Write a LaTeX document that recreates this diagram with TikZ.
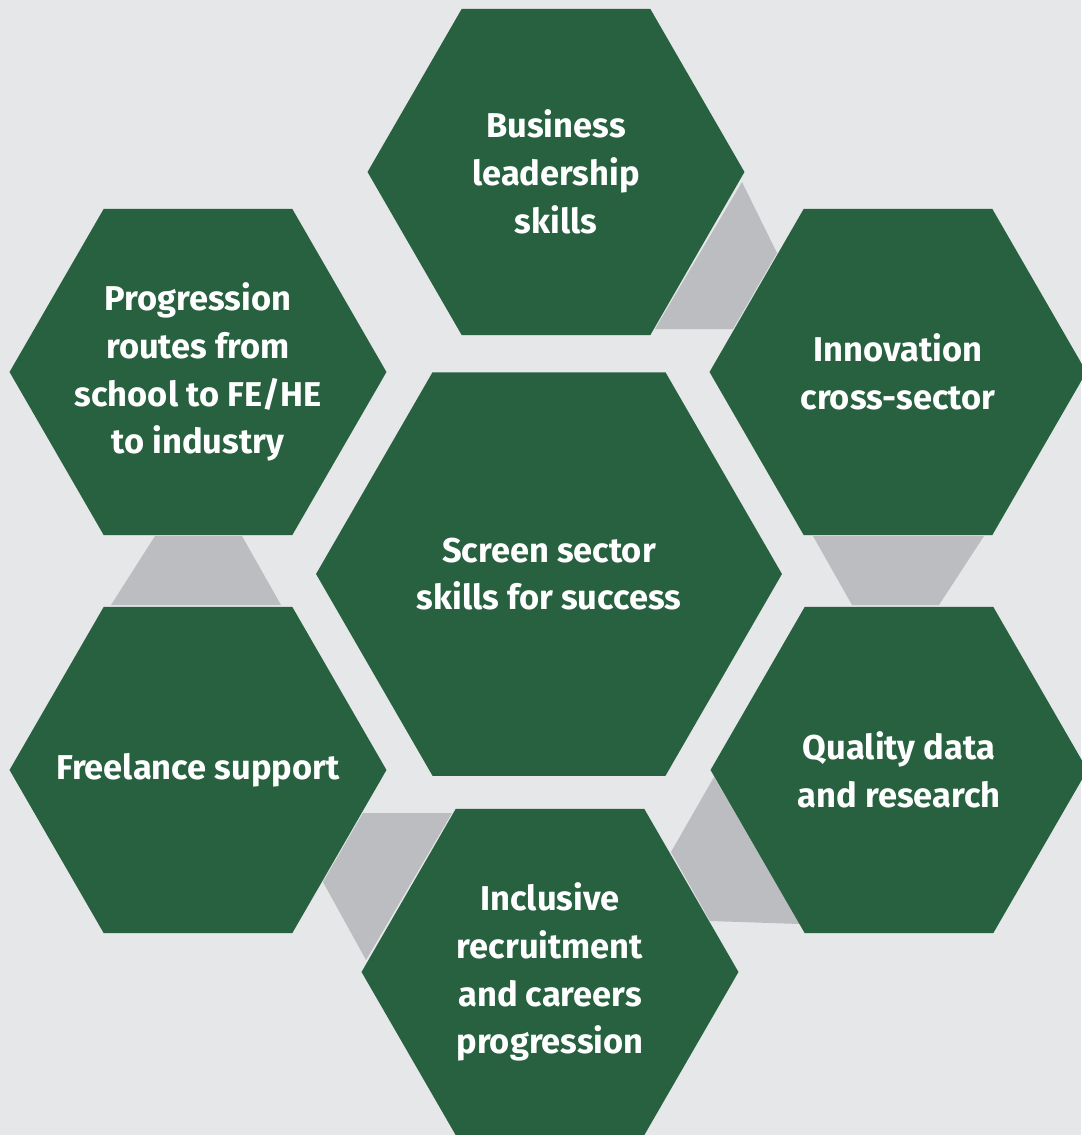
\documentclass[tikz,border=0pt]{standalone}
\usepackage{fontspec}
\setmainfont{Fira Sans}
\usetikzlibrary{shapes.geometric}

\definecolor{hexgreen}{HTML}{276140}
\definecolor{linkgrey}{HTML}{BCBDC0}
\definecolor{paper}{HTML}{E6E7E8}

\begin{document}
\begin{tikzpicture}[x=0.02cm,y=-0.02cm]
% negative inner sep so that the text never widens a cell
\tikzstyle{hexa}=[regular polygon,regular polygon sides=6,fill=hexgreen,inner sep=-40pt,text=white,align=center,font=\bfseries\fontsize{19.6}{27.2}\selectfont]
\tikzstyle{small hexa}=[hexa,minimum size=7.54cm]
\tikzstyle{big hexa}=[hexa,minimum size=9.32cm]
\tikzstyle{link}=[fill=linkgrey]

% Page and background
\useasboundingbox (0,0) rectangle (1081,1135);
\fill[paper] (0,0) rectangle (1081,1135);

% Grey bands joining the outer cells
\fill[link] (742,182) -- (777,253) -- (733,329) -- (655,329) -- cycle;
\fill[link] (813,536) -- (984,536) -- (939,605) -- (852,605) -- cycle;
\fill[link] (714,777) -- (671,852) -- (710,921) -- (800,924) -- cycle;
\fill[link] (363,813) -- (452,813) -- (366,960) -- (323,882) -- cycle;
\fill[link] (155,536) -- (242,536) -- (281,605) -- (111,605) -- cycle;

% The centre cell
\node[big hexa] (centre) at (549,574) {Screen sector\\skills for success};

% The outer ring of cells
\node[small hexa] (lead) at (556,172) {Business\\leadership\\skills};
\node[small hexa] (innov) at (898,372) {Innovation\\cross-sector};
\node[small hexa] (data) at (899,770) {Quality data\\and research};
\node[small hexa] (incl) at (550,972) {Inclusive\\recruitment\\and careers\\progression};
\node[small hexa] (free) at (198,770) {Freelance support};
\node[small hexa] (prog) at (198,372) {Progression\\routes from\\school to FE/HE\\to industry};
\end{tikzpicture}
\end{document}
